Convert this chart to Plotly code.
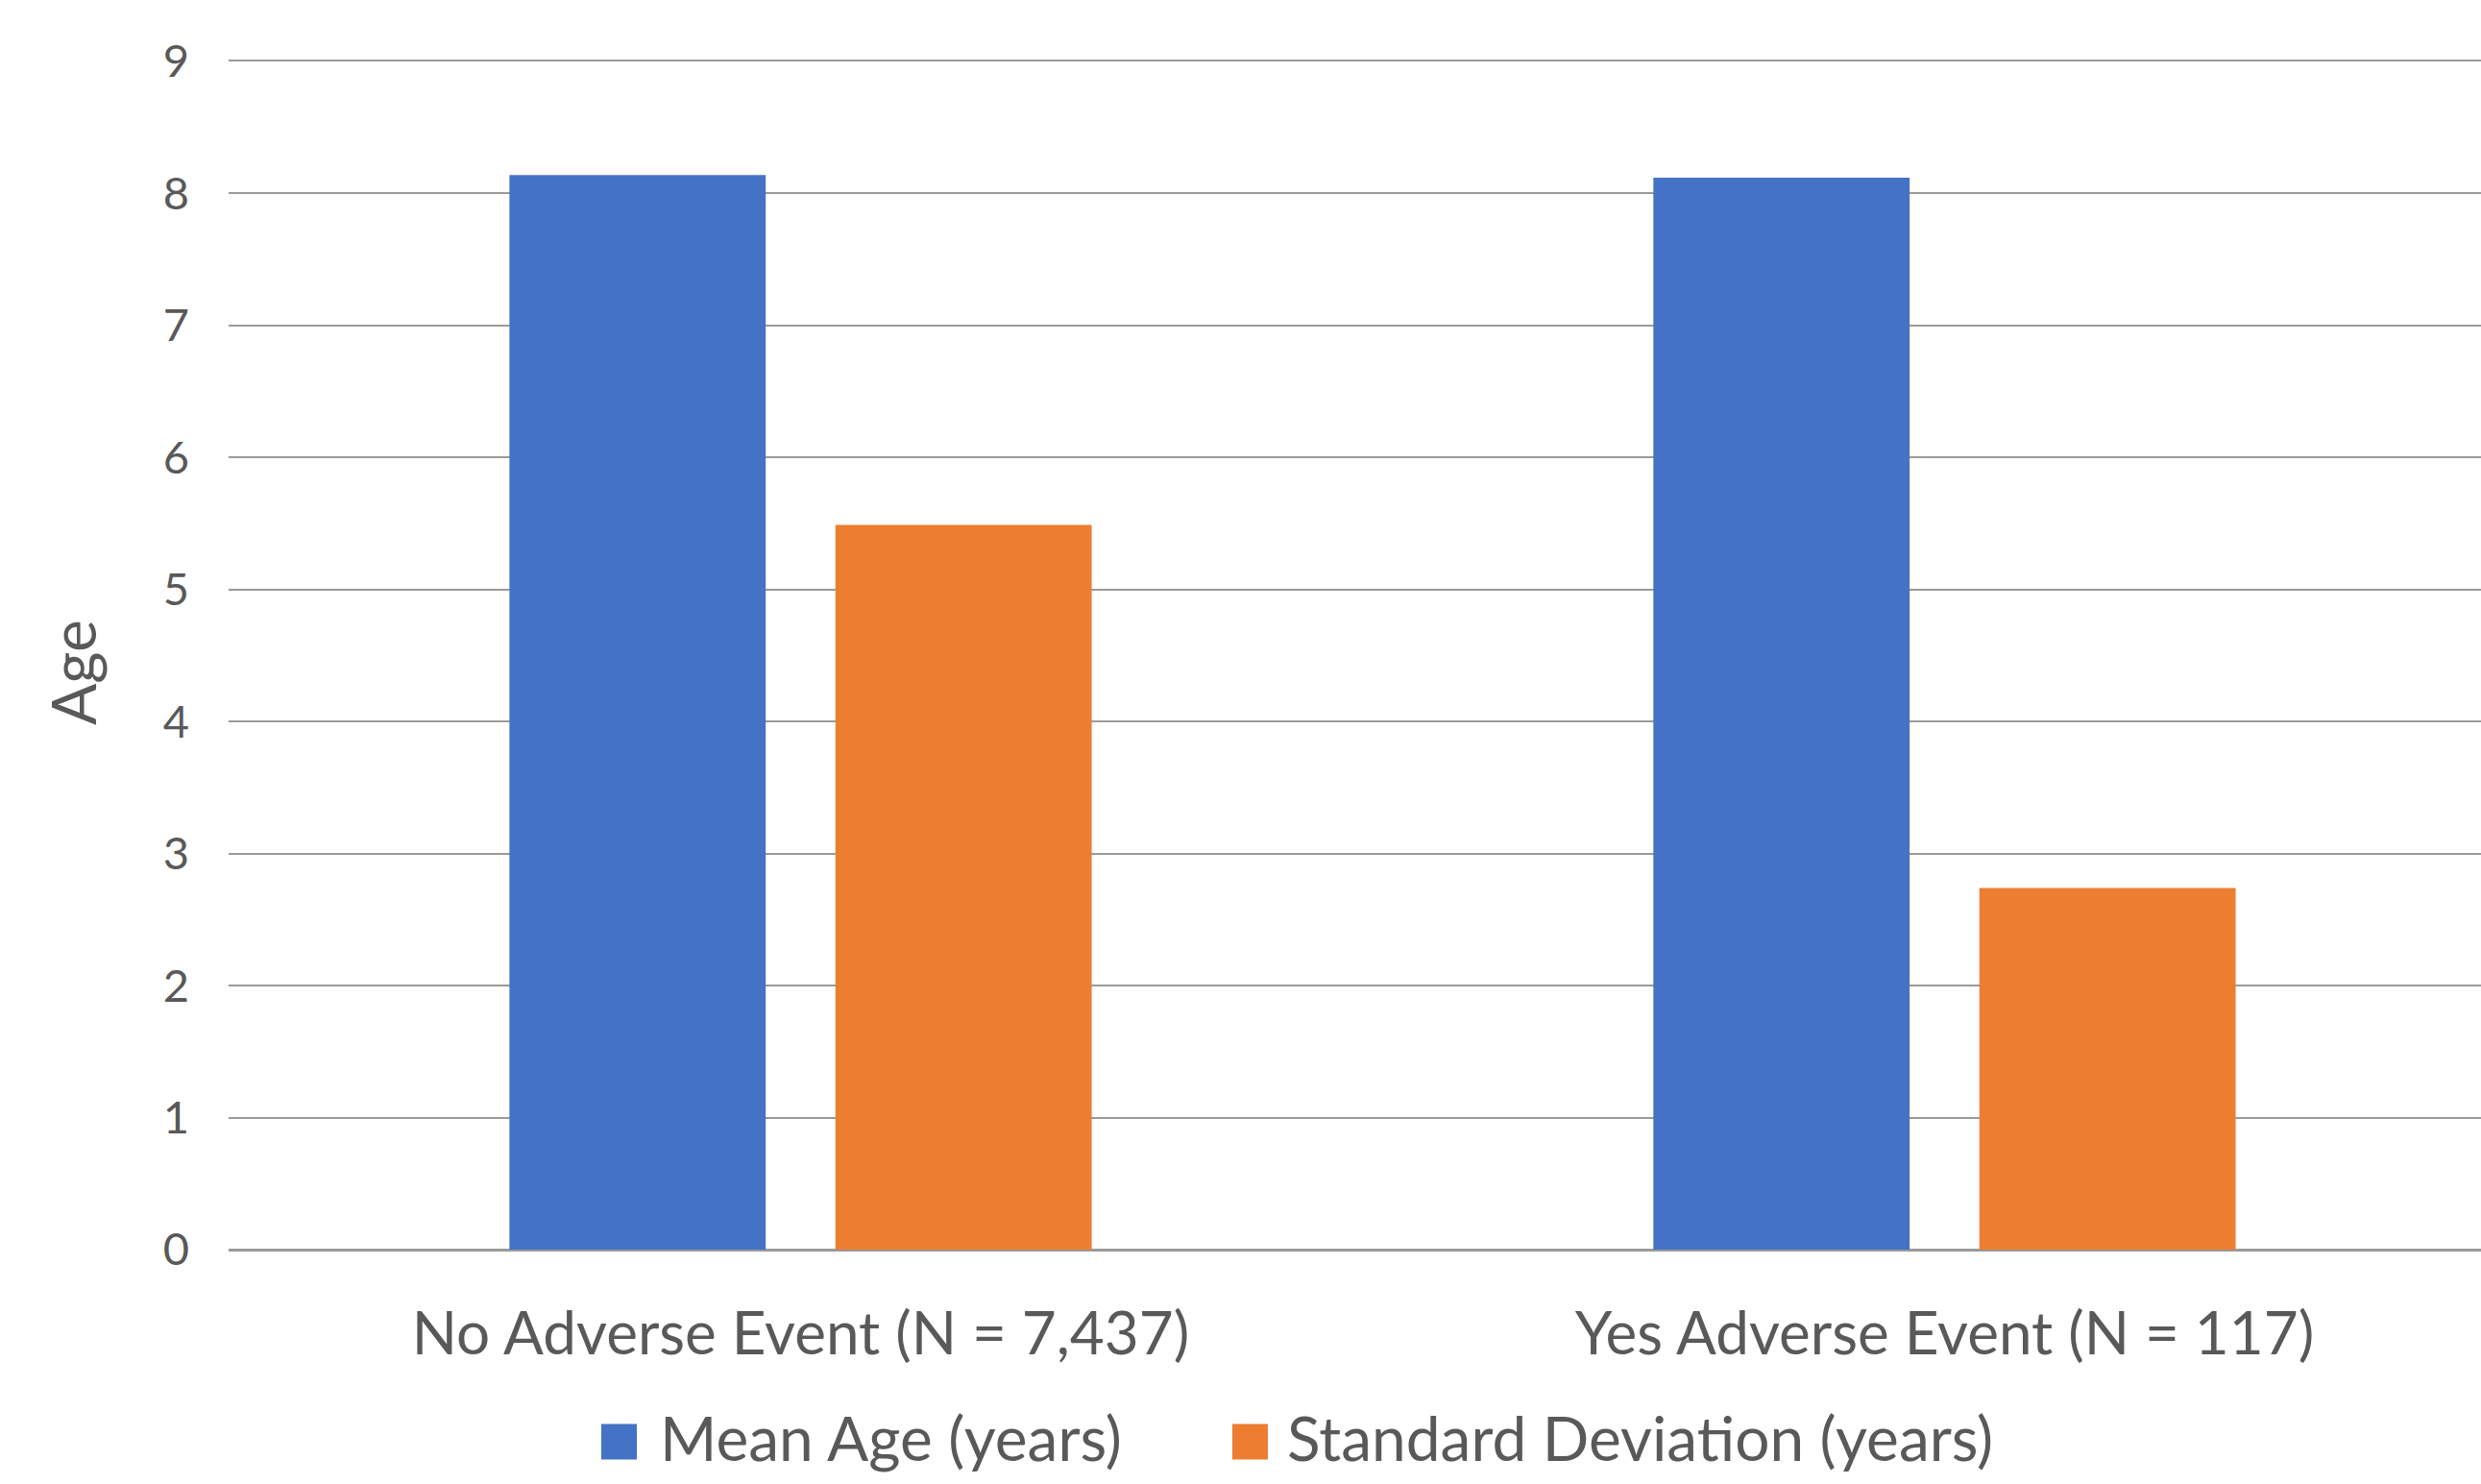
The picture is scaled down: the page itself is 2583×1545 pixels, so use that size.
import plotly.graph_objects as go

# Data
categories = ["No Adverse Event (N = 7,437)", "Yes Adverse Event (N = 117)"]
series_names = ["Mean Age (years)", "Standard Deviation (years)"]
mean_age = [8.14, 8.12]
std_dev = [5.49, 2.74]
y_ticks = [0, 1, 2, 3, 4, 5, 6, 7, 8, 9]
y_title = "Age"

colors = ["#4472C4", "#ED7D31"]
text_color = "#595959"
grid_color = "#9a9a9a"
font_family = "Lato, 'Open Sans', sans-serif"

W, H = 2583, 1545
M_L, M_R, M_T, M_B = 238, 0, 64, 244
plot_w = W - M_L - M_R
plot_h = H - M_T - M_B

fig = go.Figure()
for name, vals, col in zip(series_names, [mean_age, std_dev], colors):
    fig.add_trace(go.Bar(x=categories, y=vals, name=name,
                         marker=dict(color=col, line=dict(width=0)),
                         showlegend=False))

fig.update_layout(
    width=W, height=H,
    margin=dict(l=M_L, r=M_R, t=M_T, b=M_B),
    paper_bgcolor="white", plot_bgcolor="white",
    barmode="group", bargap=0.43, bargroupgap=0.214,
    font=dict(family=font_family, color=text_color),
    xaxis=dict(type="category", range=[-0.5, 1.469],
               showgrid=False, zeroline=False,
               showline=True, mirror=True, linecolor=grid_color, linewidth=2,
               ticks="",
               tickfont=dict(size=62, color=text_color),
               ticklabelstandoff=33),
    yaxis=dict(range=[0, 9], tickvals=y_ticks, ticktext=[str(v) for v in y_ticks],
               showgrid=True, gridcolor=grid_color, gridwidth=2,
               zeroline=True, zerolinecolor=grid_color, zerolinewidth=2,
               showline=False, ticks="",
               tickfont=dict(size=47, color=text_color),
               ticklabelstandoff=40),
)

def px_x(px):
    return (px - M_L) / plot_w

def px_y(py):
    return (H - M_B - py) / plot_h

# Rotated y-axis title
fig.add_annotation(text=y_title, xref="paper", yref="paper",
                   x=px_x(76), y=px_y(700), xanchor="center", yanchor="middle",
                   textangle=-90, showarrow=False,
                   font=dict(size=64, color=text_color))

# Legend drawn below the axis with large square keys
legend_items = [(626, 685), (1283, 1338)]
sq = 37
cy = 1501
for (sx, tx), name, col in zip(legend_items, series_names, colors):
    fig.add_shape(type="rect", xref="paper", yref="paper",
                  x0=px_x(sx), x1=px_x(sx + sq),
                  y0=px_y(cy + sq / 2), y1=px_y(cy - sq / 2),
                  fillcolor=col, line=dict(width=0))
    fig.add_annotation(text=name, xref="paper", yref="paper",
                       x=px_x(tx), y=px_y(cy - 5), xanchor="left", yanchor="middle",
                       showarrow=False, font=dict(size=64, color=text_color))

fig.write_html("out.html")
